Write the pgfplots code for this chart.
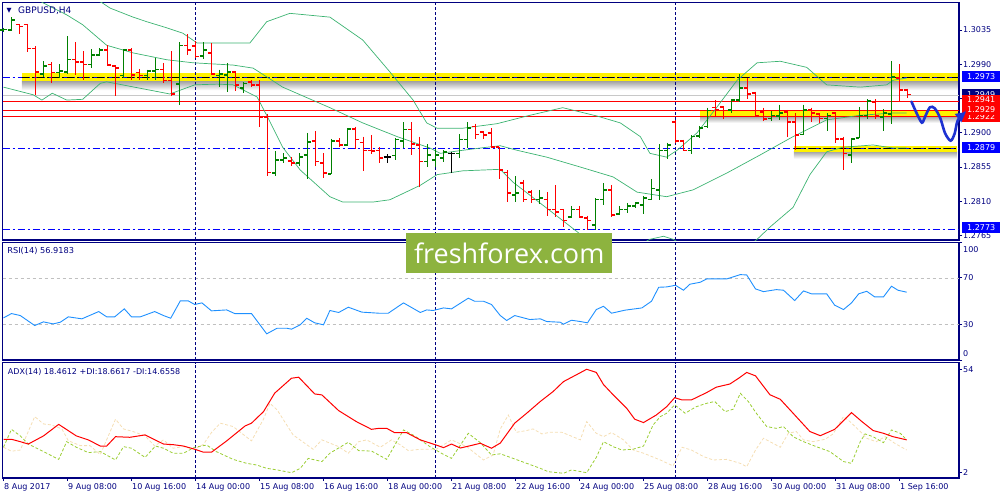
\documentclass[border=0pt]{standalone}
\usepackage{fontspec}
\setmainfont{DejaVu Sans}
\newfontfamily\wmfont{Open Sans}
\usepackage{pgfplots}
\usepackage{pgfplotstable}
\pgfplotsset{compat=1.18}
\usetikzlibrary{arrows.meta}

\definecolor{navy}{RGB}{0,0,128}
\definecolor{upc}{RGB}{0,128,0}
\definecolor{dnc}{RGB}{255,0,0}
\definecolor{bb}{RGB}{60,179,113}
\definecolor{wm}{RGB}{141,179,63}
\definecolor{rsic}{RGB}{30,144,255}
\definecolor{pdi}{RGB}{154,205,50}
\definecolor{mdi}{RGB}{245,222,179}
\definecolor{lblue}{RGB}{0,0,255}
\definecolor{arrowc}{RGB}{30,50,210}
\definecolor{lgray}{RGB}{200,200,200}
\definecolor{rgray}{RGB}{192,192,192}

\pgfdeclareplotmark{otick}{%
  \pgfpathmoveto{\pgfqpoint{-3.6pt}{0pt}}%
  \pgfpathlineto{\pgfqpoint{0pt}{0pt}}%
  \pgfusepathqstroke}
\pgfdeclareplotmark{ctick}{%
  \pgfpathmoveto{\pgfqpoint{0pt}{0pt}}%
  \pgfpathlineto{\pgfqpoint{3.6pt}{0pt}}%
  \pgfusepathqstroke}

\tikzset{lbl/.style={anchor=west, xshift=3pt, fill=#1, text=white, minimum width=38pt, minimum height=11pt, inner sep=0pt, font=\fontsize{8}{9.6}\selectfont}}

\pgfplotsset{
  panel/.style={anchor=north west, scale only axis, width=956.3pt,
    xmin=-0.1, xmax=119.44,
    axis line style={draw=navy, line width=1.1pt},
    tick align=outside, major tick length=3pt,
    tick style={draw=navy, line width=0.8pt},
    xtick=\empty, ytick pos=right, yticklabel pos=right,
    yticklabel style={font=\fontsize{8}{9.6}\selectfont, text=navy, inner sep=1pt},
    /pgf/number format/assume math mode=true},
  hlbar/.style={color=#1, draw=none, mark=none, forget plot,
    error bars/.cd, y dir=minus, y explicit, error mark=none,
    error bar style={draw=#1, line width=1.5pt}},
  otk/.style={color=#1, only marks, mark=otick, forget plot, mark options={draw=#1, line width=1.5pt}},
  ctk/.style={color=#1, only marks, mark=ctick, forget plot, mark options={draw=#1, line width=1.5pt}},
  wk/.style={navy, line width=0.8pt, dash pattern=on 3pt off 2pt, forget plot},
  dd/.style={#1, line width=1pt, dash pattern=on 7pt off 3pt on 2pt off 3pt, forget plot},
}

\pgfplotstableread{
i o h l c
0 1.3035 1.3038 1.3032 1.3036
1 1.3035 1.3052 1.3034 1.3048
5 1.2977 1.2994 1.2973 1.2988
7 1.2979 1.2990 1.2972 1.2981
8 1.2980 1.3027 1.2977 1.2996
11 1.2990 1.3010 1.2985 1.3002
12 1.3002 1.3011 1.3001 1.3009
15 1.2975 1.3010 1.2972 1.3009
18 1.2975 1.2983 1.2969 1.2981
19 1.2981 1.2998 1.2969 1.2983
22 1.2964 1.3019 1.2937 1.3015
25 1.3001 1.3019 1.2997 1.3009
27 1.2975 1.2983 1.2960 1.2977
28 1.2976 1.2992 1.2954 1.2980
30 1.2959 1.2967 1.2952 1.2965
34 1.2847 1.2876 1.2843 1.2864
35 1.2864 1.2873 1.2860 1.2867
37 1.2860 1.2873 1.2856 1.2868
38 1.2871 1.2900 1.2839 1.2888
41 1.2846 1.2892 1.2846 1.2889
43 1.2884 1.2906 1.2883 1.2905
49 1.2870 1.2893 1.2864 1.2891
50 1.2889 1.2914 1.2880 1.2904
53 1.2862 1.2885 1.2855 1.2871
54 1.2864 1.2879 1.2855 1.2871
55 1.2867 1.2877 1.2862 1.2875
57 1.2873 1.2898 1.2867 1.2891
58 1.2891 1.2914 1.2880 1.2906
64 1.2818 1.2843 1.2809 1.2821
67 1.2812 1.2825 1.2806 1.2814
71 1.2789 1.2804 1.2788 1.2799
74 1.2779 1.2814 1.2772 1.2812
75 1.2812 1.2834 1.2805 1.2825
77 1.2793 1.2804 1.2792 1.2799
78 1.2799 1.2808 1.2795 1.2804
79 1.2804 1.2809 1.2801 1.2808
80 1.2805 1.2817 1.2793 1.2814
81 1.2812 1.2839 1.2812 1.2827
82 1.2825 1.2885 1.2812 1.2877
83 1.2877 1.2887 1.2866 1.2884
86 1.2877 1.2897 1.2872 1.2895
87 1.2896 1.2909 1.2893 1.2906
88 1.2908 1.2933 1.2906 1.2929
91 1.2930 1.2944 1.2926 1.2943
92 1.2943 1.2977 1.2940 1.2959
96 1.2919 1.2929 1.2916 1.2923
97 1.2922 1.2937 1.2917 1.2926
100 1.2898 1.2937 1.2897 1.2930
103 1.2919 1.2926 1.2902 1.2923
106 1.2871 1.2893 1.2860 1.2892
107 1.2893 1.2934 1.2893 1.2923
108 1.2923 1.2944 1.2918 1.2942
110 1.2921 1.2931 1.2902 1.2926
111 1.2925 1.2994 1.2912 1.2973
}\upbars

\pgfplotstableread{
i o h l c
2 1.3042 1.3043 1.3030 1.3040
3 1.3042 1.3043 1.3006 1.3011
4 1.3011 1.3014 1.2950 1.2980
6 1.2990 1.2993 1.2965 1.2979
9 1.2996 1.3019 1.2976 1.2993
10 1.2993 1.3007 1.2969 1.2990
13 1.3009 1.3015 1.2988 1.2989
14 1.2988 1.2989 1.2948 1.2985
16 1.3009 1.3011 1.2969 1.2976
17 1.2979 1.2984 1.2969 1.2975
20 1.2983 1.2992 1.2965 1.2969
21 1.2969 1.3007 1.2948 1.2951
23 1.3015 1.3030 1.3002 1.3009
24 1.3014 1.3021 1.2998 1.3000
26 1.3005 1.3018 1.2976 1.2977
29 1.2980 1.2981 1.2955 1.2963
31 1.2967 1.2969 1.2960 1.2963
32 1.2963 1.2969 1.2908 1.2921
33 1.2921 1.2925 1.2843 1.2848
36 1.2863 1.2868 1.2856 1.2860
39 1.2889 1.2902 1.2856 1.2862
40 1.2860 1.2873 1.2841 1.2847
42 1.2889 1.2893 1.2881 1.2884
44 1.2905 1.2908 1.2879 1.2891
45 1.2887 1.2895 1.2850 1.2877
46 1.2877 1.2897 1.2872 1.2876
47 1.2877 1.2881 1.2860 1.2867
51 1.2904 1.2914 1.2871 1.2885
52 1.2884 1.2895 1.2829 1.2862
59 1.2908 1.2912 1.2892 1.2898
60 1.2901 1.2902 1.2892 1.2897
61 1.2900 1.2906 1.2880 1.2881
62 1.2881 1.2881 1.2839 1.2851
63 1.2848 1.2851 1.2809 1.2821
65 1.2834 1.2838 1.2809 1.2812
66 1.2822 1.2825 1.2808 1.2812
68 1.2812 1.2822 1.2791 1.2799
69 1.2799 1.2831 1.2789 1.2796
70 1.2799 1.2800 1.2776 1.2785
72 1.2799 1.2804 1.2788 1.2789
73 1.2788 1.2791 1.2772 1.2785
76 1.2825 1.2831 1.2789 1.2792
84 1.2914 1.2917 1.2887 1.2889
85 1.2889 1.2891 1.2876 1.2877
89 1.2933 1.2943 1.2922 1.2930
90 1.2934 1.2935 1.2918 1.2929
93 1.2959 1.2972 1.2944 1.2951
94 1.2952 1.2954 1.2922 1.2923
95 1.2927 1.2933 1.2916 1.2918
98 1.2927 1.2930 1.2895 1.2914
99 1.2914 1.2926 1.2877 1.2897
101 1.2930 1.2933 1.2914 1.2926
102 1.2925 1.2926 1.2913 1.2919
104 1.2926 1.2927 1.2887 1.2892
105 1.2892 1.2895 1.2851 1.2873
109 1.2940 1.2944 1.2918 1.2922
112 1.2972 1.2990 1.2940 1.2956
113 1.2956 1.2958 1.2946 1.2950
}\dnbars

\pgfplotstableread{
i o h l c
48 1.2868 1.2872 1.2860 1.2868
56 1.2873 1.2875 1.2847 1.2873
}\djbars

\begin{document}
\begin{tikzpicture}
\path[use as bounding box] (0,0) rectangle (1000pt,-500pt);

% ================= MAIN PRICE PANEL =================
\begin{axis}[panel, at={(2.7pt,-2.3pt)}, height=237.7pt,
  ymin=1.27591, ymax=1.30715,
  ytick={1.2765,1.2810,1.2855,1.2900,1.2945,1.2990,1.3035},
  scaled y ticks=false,
  yticklabel style={/pgf/number format/.cd, fixed, fixed zerofill, precision=4},
]
% shadows and yellow bands
\addplot[draw=none, forget plot, top color=black!40, bottom color=white] coordinates {(2.3,1.29690) (119.3,1.29690) (119.3,1.29560) (2.3,1.29560)};
\addplot[draw=none, forget plot, fill=yellow] coordinates {(2.3,1.29786) (119.3,1.29786) (119.3,1.29681) (2.3,1.29681)};
\addplot[draw=none, forget plot, top color=black!35, bottom color=white] coordinates {(87.1,1.29215) (119.3,1.29215) (119.3,1.29130) (87.1,1.29130)};
\addplot[draw=none, forget plot, fill=yellow] coordinates {(87.1,1.29286) (119.3,1.29286) (119.3,1.29211) (87.1,1.29211)};
\addplot[draw=none, forget plot, top color=black!35, bottom color=white] coordinates {(98.8,1.28750) (119.2,1.28750) (119.2,1.28660) (98.8,1.28660)};
\addplot[draw=none, forget plot, fill=yellow] coordinates {(98.8,1.28825) (119.2,1.28825) (119.2,1.28746) (98.8,1.28746)};
% horizontal levels
\addplot[lgray, line width=0.8pt, forget plot] coordinates {(-0.1,1.2949) (119.44,1.2949)};
\addplot[dd=lblue] coordinates {(-0.1,1.2973) (119.44,1.2973)};
\addplot[dd=lblue] coordinates {(-0.1,1.2879) (119.44,1.2879)};
\addplot[dd=lblue] coordinates {(-0.1,1.2773) (119.44,1.2773)};
\addplot[dd=black, line width=1.4pt] coordinates {(2.3,1.2973) (119.3,1.2973)};
\addplot[dd=black, line width=1.4pt] coordinates {(98.8,1.2879) (119.2,1.2879)};
\addplot[dnc, line width=0.9pt, forget plot] coordinates {(-0.1,1.2941) (119.44,1.2941)};
\addplot[dnc, line width=0.9pt, forget plot] coordinates {(-0.1,1.2929) (119.44,1.2929)};
\addplot[dnc, line width=0.9pt, forget plot] coordinates {(-0.1,1.2922) (119.44,1.2922)};
% week separators
\addplot[wk] coordinates {(24,1.27591) (24,1.30715)};
\addplot[wk] coordinates {(54,1.27591) (54,1.30715)};
\addplot[wk] coordinates {(84,1.27591) (84,1.30715)};
% Bollinger bands
\addplot[bb, line width=0.7pt, forget plot] coordinates {(0,1.3134) (12.3,1.3071) (13.3,1.3064) (16.2,1.3052) (17.9,1.3046) (20.4,1.3038) (22.4,1.3031) (24.2,1.3018) (30.8,1.3018) (32.9,1.3046) (35.8,1.3057) (40.8,1.3052) (44.9,1.3022) (48.3,1.2980) (51.2,1.2943) (52.9,1.2913) (54.2,1.2906) (57.4,1.2906) (61.7,1.2912) (65.8,1.2923) (69.9,1.2933) (74.2,1.2922) (77.1,1.2913) (79.6,1.2895) (80.8,1.2873) (82.9,1.2868) (84.2,1.2877) (86.7,1.2900) (89.2,1.2934) (91.7,1.2969) (94.2,1.2992) (97.1,1.2994) (100.4,1.2986) (102.9,1.2963) (107.1,1.2960) (110.4,1.2963) (111.2,1.2969) (112.9,1.2972)};
\addplot[bb, line width=0.7pt, forget plot] coordinates {(0,1.3107) (4.9,1.3071) (7.9,1.3055) (9.9,1.3042) (12.9,1.3015) (16.2,1.3005) (20.4,1.2996) (23.7,1.2992) (28.7,1.2989) (31.2,1.2985) (34.9,1.2960) (40.8,1.2933) (44.9,1.2913) (49.2,1.2895) (53.3,1.2880) (54.6,1.2873) (57.4,1.2877) (60.4,1.2881) (62.1,1.2883) (64.2,1.2877) (67.9,1.2868) (72.1,1.2855) (76.2,1.2842) (79.2,1.2822) (82.9,1.2816) (86.2,1.2825) (90.4,1.2847) (94.6,1.2871) (98.7,1.2895) (102.9,1.2917) (107.1,1.2923) (111.2,1.2926) (112.9,1.2926)};
\addplot[bb, line width=0.7pt, forget plot] coordinates {(0,1.2960) (3.7,1.2950) (4.8,1.2943) (6.1,1.2952) (7.9,1.2943) (9.9,1.2944) (12.1,1.2965) (12.9,1.2967) (20.8,1.2951) (23.9,1.2963) (26.7,1.2964) (28.7,1.2963) (31.7,1.2947) (32.9,1.2923) (34.9,1.2881) (37.1,1.2851) (40.8,1.2816) (42.4,1.2809) (46.2,1.2809) (48.3,1.2812) (52.1,1.2831) (54.2,1.2845) (57.4,1.2850) (62.1,1.2852) (63.7,1.2835) (67.9,1.2801) (71.7,1.2770) (74.6,1.2746) (77.1,1.2739) (80.8,1.2760) (82.5,1.2764) (83.7,1.2760) (87.1,1.2739) (90.8,1.2733) (94.2,1.2760) (95.8,1.2776) (98.7,1.2802) (100.8,1.2845) (102.9,1.2875) (104.9,1.2881) (108.7,1.2884) (111.2,1.2880) (112.9,1.2880)};
% OHLC bars
\addplot[hlbar=upc] table[x=i, y=h, y error minus expr=\thisrow{h}-\thisrow{l}] {\upbars};
\addplot[otk=upc] table[x=i, y=o] {\upbars};
\addplot[ctk=upc] table[x=i, y=c] {\upbars};
\addplot[hlbar=dnc] table[x=i, y=h, y error minus expr=\thisrow{h}-\thisrow{l}] {\dnbars};
\addplot[otk=dnc] table[x=i, y=o] {\dnbars};
\addplot[ctk=dnc] table[x=i, y=c] {\dnbars};
\addplot[hlbar=black] table[x=i, y=h, y error minus expr=\thisrow{h}-\thisrow{l}] {\djbars};
\addplot[otk=black] table[x=i, y=o] {\djbars};
\addplot[ctk=black] table[x=i, y=c] {\djbars};
% title
\node[anchor=center, text=navy, inner sep=0pt, font=\fontsize{6.5}{7}\selectfont, xshift=6.3pt, yshift=-8.2pt] at (rel axis cs:0,1) {▼};
\node[anchor=west, text=navy, inner sep=0pt, font=\fontsize{9}{10}\selectfont, xshift=15.3pt, yshift=-8.2pt] at (rel axis cs:0,1) {GBPUSD,H4};
\end{axis}

% ================= RSI PANEL =================
\begin{axis}[panel, at={(2.7pt,-242.7pt)}, height=117.3pt, ymin=0, ymax=100,
  ytick={0,30,70,100},
  yticklabels={\smash{\raisebox{3.8pt}{0}},30,70,\smash{\raisebox{-9.5pt}{100}}},
]
\addplot[rgray, line width=0.7pt, dash pattern=on 3pt off 3pt, forget plot] coordinates {(-0.1,70) (119.44,70)};
\addplot[rgray, line width=0.7pt, dash pattern=on 3pt off 3pt, forget plot] coordinates {(-0.1,30) (119.44,30)};
\addplot[wk] coordinates {(24,0) (24,100)};
\addplot[wk] coordinates {(54,0) (54,100)};
\addplot[wk] coordinates {(84,0) (84,100)};
\addplot[rsic, line width=0.9pt] coordinates {(0,35.9) (1,39.6) (2.1,37.9) (3.9,29.4) (5,32.5) (6.2,30.8) (7.1,32.2) (8.1,36.8) (9.8,35.1) (11.9,41.3) (12.9,36.8) (13.9,36.8) (15.1,43.6) (16,36.8) (17.1,36.8) (18.9,41.3) (20,37.9) (20.9,35.6) (22.1,50.4) (23.1,50.4) (23.9,47.3) (24.8,48.7) (26,41.9) (27.9,42.7) (28.9,39.6) (31,39.6) (32.9,22.3) (34.2,27.1) (35.4,27.1) (36,26.3) (37.1,30.0) (37.9,35.6) (38.9,31.7) (40,30.0) (40.8,42.2) (41.9,40.5) (43.1,45.0) (44.8,40.8) (46.9,39.9) (48.1,39.9) (50,48.7) (52.1,40.5) (52.9,42.7) (53.7,42.2) (55,44.4) (56,43.6) (58.1,52.7) (58.9,50.1) (60,50.1) (61,47.3) (62.1,37.9) (62.9,33.7) (63.9,37.9) (65.8,34.5) (67.1,35.1) (67.9,32.8) (69.6,32.2) (70,30.5) (71,33.9) (72.1,32.8) (73,31.7) (74.1,43.0) (75,45.8) (76,39.9) (77.7,42.5) (79.8,44.4) (81,50.1) (81.9,62.0) (82.9,62.3) (84,63.7) (85,59.5) (85.8,64.6) (87.1,66.3) (87.9,69.1) (90.4,69.1) (92.1,72.8) (92.9,72.5) (94,60.6) (95,58.3) (96.6,60.0) (97.5,59.5) (98.9,50.7) (100,58.9) (101,56.4) (102.9,56.4) (103.9,46.7) (105,43.0) (106,48.7) (106.9,56.4) (107.9,58.6) (108.9,53.8) (110,53.8) (111,62.9) (111.8,59.5) (112.9,57.8)};
\node[anchor=west, text=navy, inner sep=0pt, font=\fontsize{8.2}{9}\selectfont, xshift=4.5pt, yshift=-8.5pt] at (rel axis cs:0,1) {RSI(14) 56.9183};
\end{axis}

% ================= ADX PANEL =================
\begin{axis}[panel, at={(2.7pt,-362.7pt)}, height=115.3pt, ymin=-0.67, ymax=57.3,
  ytick={2,54},
  xtick={0,8,16,24,32,40,48,56,64,72,80,88,96,104,112}, xtick pos=bottom,
  xticklabels={8 Aug 2017,9 Aug 08:00,10 Aug 16:00,14 Aug 00:00,15 Aug 08:00,16 Aug 16:00,18 Aug 00:00,21 Aug 08:00,22 Aug 16:00,24 Aug 00:00,25 Aug 08:00,28 Aug 16:00,30 Aug 00:00,31 Aug 08:00,1 Sep 16:00},
  xticklabel style={anchor=north west, font=\fontsize{8}{9.6}\selectfont, text=navy, inner sep=0pt, xshift=0.5pt, yshift=-2.5pt},
]
\addplot[wk] coordinates {(24,-0.67) (24,57.3)};
\addplot[wk] coordinates {(54,-0.67) (54,57.3)};
\addplot[wk] coordinates {(84,-0.67) (84,57.3)};
\addplot[mdi, line width=0.8pt, dash pattern=on 3pt off 2pt] coordinates {(0,14.8) (1,12.8) (2.1,13.4) (3.9,30.2) (5,26.5) (6,26.0) (7.3,24.0) (8.1,18.1) (9.6,15.6) (10.8,15.6) (12.1,11.1) (14,28.9) (15,24.0) (16.2,22.7) (17.7,20.5) (18.9,15.4) (20,18.5) (21.2,14.3) (22.5,15.1) (23.9,13.8) (25,16.3) (26,22.2) (27.1,26.9) (28.7,25.2) (31,18.0) (32.5,28.9) (33.3,36.9) (34.2,33.6) (36.2,21.0) (38.7,13.8) (39.8,18.5) (41.9,15.1) (43.1,11.8) (44.4,17.6) (45.4,18.5) (47.1,14.8) (48.5,18.5) (49.6,16.0) (50.6,13.1) (52.1,13.8) (54.1,13.8) (56,18.5) (57.9,15.1) (60,8.4) (61.2,10.9) (62.1,24.0) (63.1,31.0) (64.1,22.3) (65.4,23.2) (66.2,24.0) (67.3,21.5) (68.3,22.3) (69.8,22.3) (70.8,20.7) (72.1,18.5) (72.9,27.7) (74.1,21.8) (75,20.1) (76,22.2) (77.5,18.5) (78.7,13.4) (80,11.8) (82.1,8.4) (83.7,5.4) (84.8,14.8) (86,13.4) (87.5,10.1) (88.7,8.4) (90.4,8.7) (92.1,6.7) (92.9,5.0) (94,13.4) (95,19.3) (95.8,17.6) (97.1,14.8) (98.1,21.8) (99.1,22.7) (100,18.5) (101.2,17.6) (102.7,18.8) (103.7,21.5) (105,30.2) (105.8,27.7) (107.1,22.7) (107.9,19.3) (109.1,17.6) (110.2,20.1) (111.4,16.8) (112.9,13.4)};
\addplot[pdi, line width=0.8pt, dash pattern=on 3pt off 2pt] coordinates {(0,14.8) (1,23.8) (2.1,20.5) (3.1,16.4) (5,12.6) (6.9,8.7) (7.9,17.6) (9.1,14.8) (10.6,12.1) (12.1,12.6) (14,8.4) (15,15.1) (16,14.3) (17.7,9.7) (19,15.4) (20,14.3) (21.2,11.8) (22.5,11.8) (23.9,14.8) (25.4,15.9) (26.6,12.6) (28.7,8.7) (30.4,6.7) (31.6,5.9) (32.9,4.2) (34.2,3.4) (36,2.0) (37.1,4.2) (38.1,9.2) (39.8,7.6) (40.8,11.8) (43.1,17.3) (44.4,13.1) (46,12.9) (47.9,8.7) (50,23.5) (51.4,20.5) (53.3,15.1) (55,11.2) (56,9.2) (58.1,21.8) (59.6,17.1) (61,10.9) (62.1,11.5) (63.7,9.2) (65.4,6.7) (67.1,4.2) (68.1,2.5) (70,1.7) (71,3.4) (72.9,2.0) (74.1,9.7) (75,17.6) (76.2,15.1) (77.3,13.4) (78.7,13.8) (80,15.4) (81.2,26.0) (82.1,30.2) (82.9,31.9) (83.9,36.1) (85.2,31.9) (86.6,35.2) (87.9,36.9) (88.9,37.8) (90.2,32.7) (91.2,33.9) (92.1,41.9) (93.1,37.8) (94.1,31.9) (95.4,25.2) (96.6,24.3) (97.5,25.2) (98.7,20.1) (100,17.6) (101.6,15.1) (103.3,12.6) (105,7.6) (106,6.7) (107.1,17.6) (107.7,21.5) (108.7,20.1) (110,17.1) (111,23.5) (112.1,21.8) (112.9,18.5)};
\addplot[dnc, line width=1pt] coordinates {(0,18.8) (1,18.8) (2.1,17.6) (3.1,16.4) (5,20.5) (6.9,26.3) (9.1,20.5) (10.6,18.5) (12.1,15.4) (12.9,15.4) (14,20.1) (15.8,19.8) (17.7,21.0) (20,16.4) (21.2,16.1) (22.5,15.4) (23.9,13.8) (25,12.3) (26,12.3) (27.9,18.0) (30.2,25.5) (31,26.9) (32.5,32.7) (33.9,42.0) (36,49.5) (36.9,50.0) (38.9,41.6) (39.8,41.1) (41.9,33.2) (44.1,27.7) (46,23.8) (46.9,24.3) (47.9,24.3) (48.9,22.1) (50.4,22.1) (52.1,18.5) (54.1,15.9) (55,14.6) (56,16.4) (57.1,14.4) (58.7,15.9) (59.6,16.8) (61,14.3) (62.1,16.9) (63.9,26.9) (65.4,31.9) (67.1,37.8) (68.7,42.8) (70,47.8) (71.6,51.2) (72.9,54.0) (74.1,52.4) (75,46.3) (76.2,41.2) (77.9,34.4) (78.9,28.9) (80,27.2) (81.6,31.0) (82.9,35.2) (83.9,39.7) (84.8,38.6) (86,38.6) (87.9,42.3) (89.1,45.0) (90.8,46.6) (91.9,49.5) (92.9,52.4) (94,50.7) (95.8,41.2) (97.1,38.9) (98.7,31.9) (100.8,22.7) (102.1,20.6) (103.9,23.8) (106,32.2) (107.3,27.7) (108.7,23.2) (110,21.8) (111.2,20.1) (112.9,18.5)};
\node[anchor=west, text=navy, inner sep=0pt, font=\fontsize{8}{9}\selectfont, xshift=5pt, yshift=-9.6pt] at (rel axis cs:0,1) {ADX(14) 18.4612 +DI:18.6617 -DI:14.6558};
\end{axis}

% ================= OVERLAY: price labels and forecast arrow =================
\begin{axis}[at={(2.7pt,-2.3pt)}, anchor=north west, scale only axis, width=956.3pt, height=237.7pt,
  xmin=-0.1, xmax=119.44, ymin=1.27591, ymax=1.30715, hide axis, clip=false]
\node[lbl=navy] at (axis cs:119.44,1.2950) {1.2949};
\node[lbl=lblue] at (axis cs:119.44,1.2974) {1.2973};
\node[lbl=lblue] at (axis cs:119.44,1.2881) {1.2879};
\node[lbl=lblue] at (axis cs:119.44,1.2775) {1.2773};
\node[lbl=dnc] at (axis cs:119.44,1.2921) {1.2922};
\node[lbl=dnc] at (axis cs:119.44,1.2931) {1.2929};
\node[lbl=dnc] at (axis cs:119.44,1.2943) {1.2941};
\addplot[arrowc, line width=2.6pt, smooth, line cap=round, -{Triangle[length=10pt, width=10pt]}] coordinates {(113.5,1.29409) (114.15,1.29256) (114.8,1.29133) (115.2,1.29212) (115.8,1.29335) (116.4,1.29322) (117.1,1.29191) (117.7,1.28993) (118.4,1.28896) (118.9,1.28993) (119.3,1.29168) (120.3,1.29273)};
\end{axis}

% watermark
\node[fill=wm, anchor=north west, minimum width=206pt, minimum height=39.7pt, inner sep=0pt, text=white, font=\wmfont\fontsize{27}{27}\selectfont] at (406pt,-233pt) {freshforex.com};
\end{tikzpicture}
\end{document}
